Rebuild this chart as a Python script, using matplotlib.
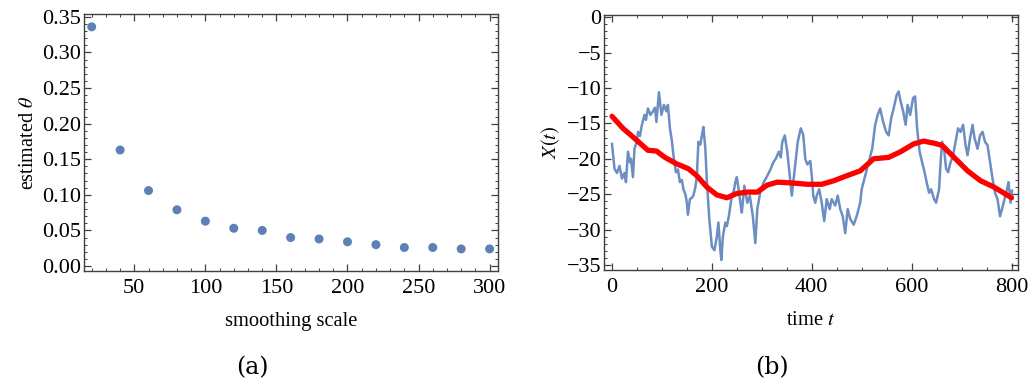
import matplotlib
matplotlib.use("Agg")
import matplotlib.pyplot as plt
from matplotlib.ticker import MultipleLocator

# ---- data: panel (a)
scale = [20, 40, 60, 80, 100, 120, 140, 160, 180, 200, 220, 240, 260, 280, 300]
theta = [0.336, 0.163, 0.106, 0.079, 0.063, 0.053, 0.050, 0.040, 0.038, 0.034,
         0.030, 0.026, 0.026, 0.024, 0.024]

# ---- data: panel (b) noisy path
t_path = [0, 5, 10, 15, 20, 25, 28, 32, 36, 38, 42, 45, 50, 52, 56, 59, 65, 68, 72, 77,
          82, 86, 89, 94, 99, 104, 109, 112, 116, 120, 123, 128, 132, 136, 140, 143, 147,
          150, 152, 156, 160, 163, 167, 170, 173, 177, 180, 183, 187, 190, 195, 200, 205,
          210, 213, 217, 219, 222, 227, 230, 234, 240, 244, 247, 250, 254, 257, 260, 265,
          271, 276, 282, 287, 291, 298, 304, 311, 318, 323, 328, 334, 338, 341, 346, 351,
          356, 360, 366, 372, 378, 383, 387, 391, 397, 400, 403, 407, 410, 415, 420, 425,
          430, 436, 440, 447, 452, 457, 462, 467, 472, 477, 484, 490, 497, 500, 507, 514,
          521, 527, 532, 537, 543, 549, 554, 559, 564, 570, 574, 578, 583, 588, 592, 597,
          603, 607, 611, 616, 621, 626, 630, 635, 639, 645, 649, 655, 658, 661, 665, 669,
          673, 678, 683, 688, 693, 698, 703, 708, 712, 717, 722, 726, 732, 737, 742, 747,
          752, 757, 762, 767, 772, 777, 781, 786, 791, 794, 798, 801]
x_path = [-17.9, -21.4, -22.0, -21.0, -22.8, -22.0, -23.3, -19.0, -20.5, -20.0, -22.6,
          -18.6, -17.5, -16.2, -16.8, -15.5, -13.8, -14.5, -12.9, -13.8, -13.3, -12.8,
          -14.8, -10.6, -13.8, -12.4, -13.3, -12.4, -15.7, -17.5, -19.5, -21.9, -21.5,
          -23.3, -23.0, -24.3, -25.0, -26.2, -27.9, -25.7, -25.5, -25.2, -24.0, -22.4,
          -17.6, -18.0, -16.7, -15.5, -18.6, -23.3, -28.6, -32.4, -32.9, -31.0, -29.0,
          -32.9, -34.3, -31.0, -29.0, -29.5, -28.1, -25.2, -24.5, -23.3, -22.6, -24.5,
          -26.2, -27.6, -23.8, -26.2, -25.2, -28.1, -31.9, -27.1, -24.3, -23.3, -22.4,
          -21.4, -20.5, -20.0, -19.0, -19.8, -17.6, -16.7, -19.0, -22.4, -25.2, -21.4,
          -17.6, -15.7, -16.6, -20.0, -20.8, -20.3, -22.4, -25.2, -26.2, -25.2, -24.3,
          -26.2, -28.8, -25.7, -27.1, -25.7, -26.6, -25.2, -27.1, -28.1, -30.5, -27.1,
          -28.5, -29.3, -28.1, -26.2, -24.3, -22.4, -20.5, -18.6, -15.2, -13.8, -12.9,
          -14.8, -16.2, -16.7, -14.3, -12.9, -11.0, -10.5, -11.9, -13.3, -15.2, -12.4,
          -13.8, -11.4, -11.2, -15.7, -19.0, -20.5, -21.9, -23.3, -24.8, -24.3, -25.7,
          -26.2, -24.3, -20.5, -17.6, -18.6, -21.4, -21.9, -20.5, -19.5, -17.6, -15.7,
          -16.2, -15.2, -18.1, -19.5, -17.1, -15.2, -17.1, -18.6, -16.7, -16.2, -17.6,
          -18.1, -20.5, -22.8, -24.8, -25.7, -28.1, -27.1, -25.7, -24.3, -23.3, -26.2,
          -24.5]

# ---- data: panel (b) smoothed path
t_smooth = [0, 22, 45, 72, 89, 106, 129, 153, 170, 190, 210, 230, 250, 271, 291, 311,
            331, 358, 392, 420, 444, 470, 497, 524, 554, 578, 604, 624, 645, 661, 685,
            712, 738, 765, 800]
x_smooth = [-14.0, -15.7, -17.1, -18.8, -18.9, -19.8, -20.7, -21.4, -22.4, -24.0, -25.1,
            -25.5, -24.9, -24.7, -24.7, -23.7, -23.3, -23.4, -23.6, -23.6, -23.1, -22.4,
            -21.7, -20.0, -19.8, -19.0, -17.9, -17.5, -17.8, -18.1, -19.8, -21.7, -23.1,
            -24.0, -25.5]

plt.rcParams['font.family'] = ['Liberation Serif', 'DejaVu Serif']
plt.rcParams['mathtext.fontset'] = 'stix'

fig = plt.figure(figsize=(10.28, 3.83), dpi=100)
axa = fig.add_axes([84/1028, (383-271)/383, 414/1028, 257/383])
axb = fig.add_axes([604/1028, (383-270)/383, 414/1028, 255/383])

dot_color = '#5E81B5'
frame_color = '#404040'

axa.scatter(scale, theta, s=42, color=dot_color, edgecolors='none', zorder=3)
axa.set_xlim(14.6, 305.9)
axa.set_ylim(-0.007, 0.354)
axa.xaxis.set_major_locator(MultipleLocator(50))
axa.xaxis.set_minor_locator(MultipleLocator(10))
axa.yaxis.set_major_locator(MultipleLocator(0.05))
axa.yaxis.set_minor_locator(MultipleLocator(0.01))
axa.yaxis.set_major_formatter(matplotlib.ticker.FormatStrFormatter('%.2f'))
axa.set_xlabel('smoothing scale', fontsize=14.8, labelpad=10)
axa.set_ylabel(r'estimated $\theta$', fontsize=14.5, labelpad=3)

axb.plot(t_path, x_path, color='#6C8EC3', lw=1.8, zorder=2)
axb.plot(t_smooth, x_smooth, color='#FF0000', lw=3.8, zorder=3, solid_capstyle='round')
axb.set_xlim(-16, 813)
axb.set_ylim(-35.7, 0.3)
axb.xaxis.set_major_locator(MultipleLocator(200))
axb.xaxis.set_minor_locator(MultipleLocator(50))
axb.yaxis.set_major_locator(MultipleLocator(5))
axb.yaxis.set_minor_locator(MultipleLocator(1))
axb.set_xlabel(r'time $t$', fontsize=14.8, labelpad=10)
axb.set_ylabel(r'$X(t)$', fontsize=14.8, labelpad=3)

for ax in (axa, axb):
    for sp in ax.spines.values():
        sp.set_color(frame_color)
        sp.set_linewidth(1.0)
    ax.tick_params(which='both', direction='in', top=True, right=True, color=frame_color)
    ax.tick_params(which='major', length=5, width=0.9, labelsize=16)
    ax.tick_params(which='minor', length=2.5, width=0.7)
    ax.tick_params(axis='y', which='major', pad=2)
    ax.tick_params(axis='x', which='major', pad=6)

fig.text(252/1028, 1 - 368/383, '(a)', fontsize=17, ha='center', va='center',
         family=['DejaVu Serif'])
fig.text(772/1028, 1 - 368/383, '(b)', fontsize=17, ha='center', va='center',
         family=['DejaVu Serif'])

fig.savefig('out.png', dpi=100)
